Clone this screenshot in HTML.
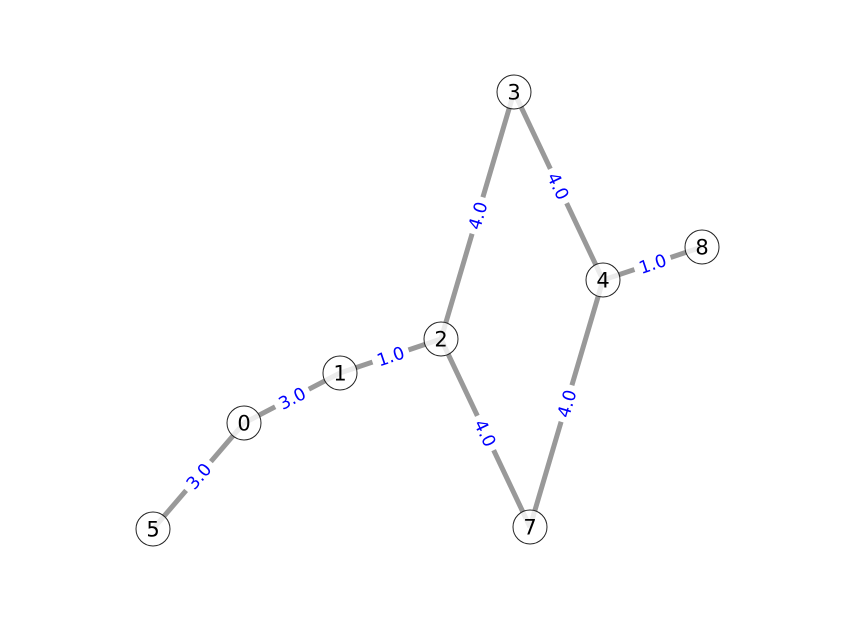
<!DOCTYPE html>
<html><head><meta charset="utf-8"><style>body{margin:0;background:#fff}svg{display:block}</style></head>
<body>
<svg id="g" width="856" height="632" xmlns="http://www.w3.org/2000/svg"></svg>
<script>
const nodeIds=[0,1,2,3,4,5,7,8];
const nodeX=[244,340,441,514,603,153,530,702];
const nodeY=[423,373,339,92,280,529,527,247];
const edgeFrom=[5,0,1,2,3,4,2,7];
const edgeTo=[0,1,2,3,4,8,7,4];
const edgeWeights=["3.0","3.0","1.0","4.0","4.0","1.0","4.0","4.0"];
const NS="http://www.w3.org/2000/svg",svg=document.getElementById('g');
function pos(id){const i=nodeIds.indexOf(id);return [nodeX[i],nodeY[i]];}
const eg=document.createElementNS(NS,'g');


svg.appendChild(eg);
const lg=document.createElementNS(NS,'g');


edgeFrom.forEach((f,k)=>{
  const [x1,y1]=pos(f),[x2,y2]=pos(edgeTo[k]);
  const l=document.createElementNS(NS,'line');
  
  
  l.setAttribute('x1',x1);l.setAttribute('y1',y1);l.setAttribute('x2',x2);l.setAttribute('y2',y2);
  l.setAttribute('stroke','#999');l.setAttribute('stroke-width','5');
  eg.appendChild(l);
  let a=Math.atan2(y2-y1,x2-x1)*180/Math.PI;
  if(a>90)a-=180;if(a<-90)a+=180;
  const mx=(x1+x2)/2,my=(y1+y2)/2;
  const g=document.createElementNS(NS,'g');
  
  
  g.setAttribute('transform','translate('+mx+','+my+') rotate('+a+')');
  const r=document.createElementNS(NS,'rect');
  r.setAttribute('x',-19);r.setAttribute('y',-11);r.setAttribute('width',38);r.setAttribute('height',22);r.setAttribute('fill','#fff');
  g.appendChild(r);
  const t=document.createElementNS(NS,'text');
  t.setAttribute('text-anchor','middle');t.setAttribute('dy','6.5');
  t.setAttribute('font-family','DejaVu Sans, sans-serif');t.setAttribute('font-size','17.5');t.setAttribute('fill','#0000ff');
  t.textContent=edgeWeights[k];
  g.appendChild(t);
  lg.appendChild(g);
});
const ng=document.createElementNS(NS,'g');


svg.appendChild(ng);
nodeIds.forEach((id,i)=>{
  const g=document.createElementNS(NS,'g');
  
  
  const c=document.createElementNS(NS,'circle');
  c.setAttribute('cx',nodeX[i]);c.setAttribute('cy',nodeY[i]);c.setAttribute('r',17);
  c.setAttribute('fill','rgba(255,255,255,0.8)');c.setAttribute('stroke','#222');c.setAttribute('stroke-width','1');
  g.appendChild(c);
  const t=document.createElementNS(NS,'text');
  t.setAttribute('x',nodeX[i]);t.setAttribute('y',nodeY[i]+7.5);t.setAttribute('text-anchor','middle');
  t.setAttribute('font-family','DejaVu Sans, sans-serif');t.setAttribute('font-size','21');t.setAttribute('fill','#000');
  t.textContent=id;
  g.appendChild(t);
  ng.appendChild(g);
});
svg.appendChild(lg);
</script>
</body></html>
